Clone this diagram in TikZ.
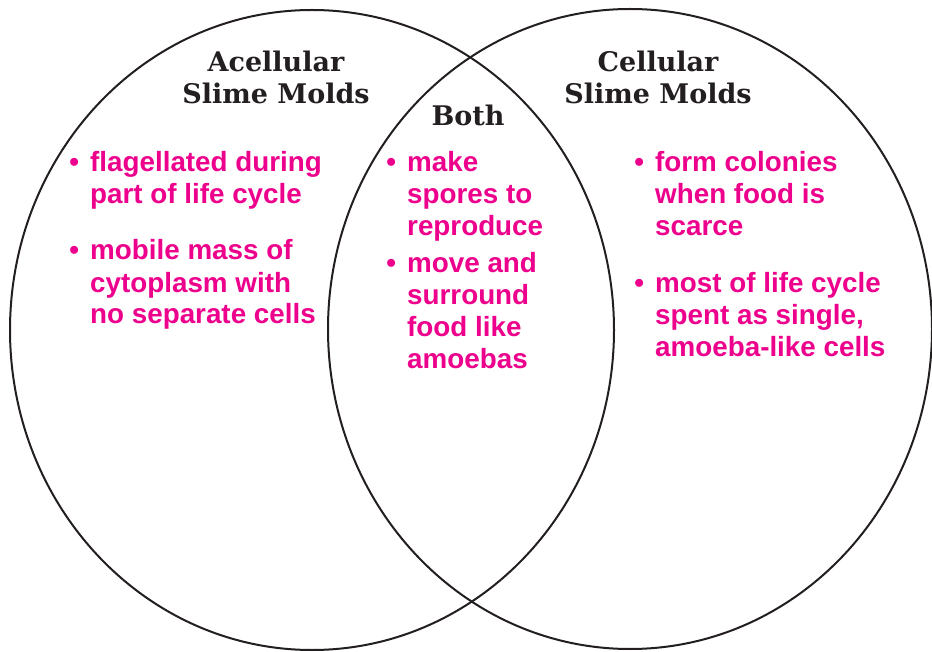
\documentclass[tikz,border=0pt]{standalone}
\usepackage{fontspec}
\setmainfont{Liberation Sans}
\newfontfamily\headfont{DejaVu Serif}
\usetikzlibrary{shapes.geometric}
\definecolor{mold}{HTML}{EC008C}
\definecolor{inkgray}{HTML}{231F20}
\newcommand{\dotitem}{\llap{\textbullet\hspace{11pt}}}
\tikzset{
  blob/.style={
    ellipse,
    draw=inkgray,
    line width=2pt,
    inner sep=0pt,
    minimum width=604pt,
    minimum height=640pt
  },
  heading/.style={
    align=center,
    text=inkgray,
    font=\headfont\bfseries\fontsize{27}{32}\selectfont,
    inner sep=0pt,
    anchor=base
  },
  fact/.style={
    align=left,
    text=mold,
    font=\bfseries\fontsize{27.8}{32}\selectfont,
    inner sep=0pt,
    anchor=base west
  }
}

\begin{document}
\begin{tikzpicture}[x=1pt, y=-1pt]
  \useasboundingbox (0,0) rectangle (932,652);

  % the two circles
  \node[blob] (acell) at (312,330) {};
  \node[blob] (cell) at (630,329) {};

  % headings (placed at the baseline of the last line)
  \node[heading] (acellhead) at (276,104) {Acellular\\Slime Molds};
  \node[heading] (cellhead) at (658,104) {Cellular\\Slime Molds};
  \node[heading] (bothhead) at (468,126) {Both};

  % left side
  \node[fact] (acell1) at (90,204) {\dotitem flagellated during\\part of life cycle};
  \node[fact] (acell2) at (90,324) {\dotitem mobile mass of\\cytoplasm with\\no separate cells};

  % overlap
  \node[fact] (both1) at (407,236) {\dotitem make\\spores to\\reproduce};
  \node[fact] (both2) at (407,368) {\dotitem move and\\surround\\food like\\amoebas};

  % right side
  \node[fact] (cell1) at (655,236) {\dotitem form colonies\\when food is\\scarce};
  \node[fact] (cell2) at (655,356) {\dotitem most of life cycle\\spent as single,\\amoeba-like cells};
\end{tikzpicture}
\end{document}
